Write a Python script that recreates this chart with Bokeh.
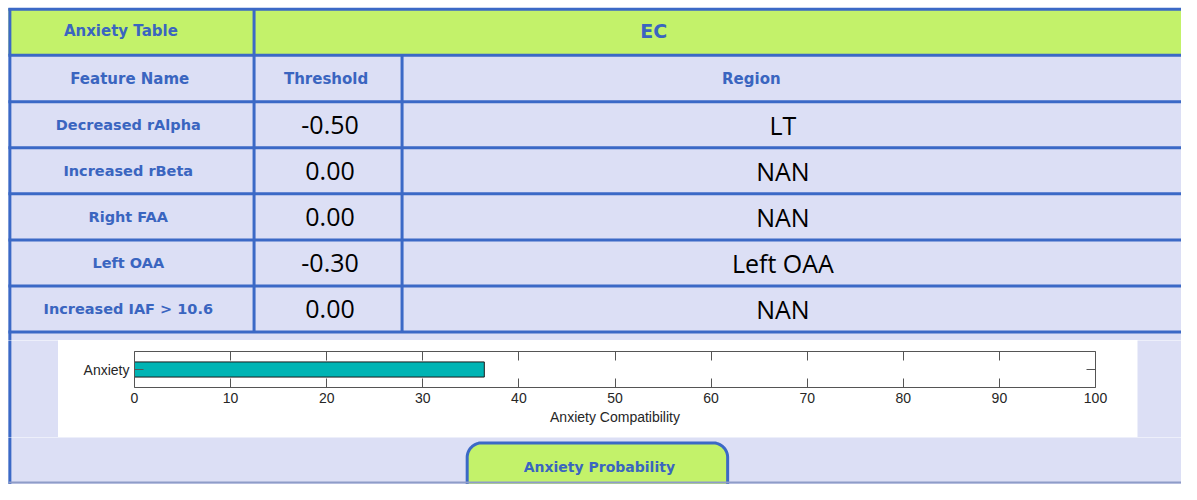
import numpy as np
from bokeh.plotting import figure
from bokeh.models import ColumnDataSource, Range1d, FactorRange, LinearAxis, CategoricalAxis, FixedTicker
from bokeh.layouts import column, row
from bokeh.core.properties import value
from bokeh.embed import file_html
from bokeh.resources import INLINE

# ---------------- data ----------------
table_title = "Anxiety Table"
condition = "EC"
col_headers = ["Feature Name", "Threshold", "Region"]
features = ["Decreased rAlpha", "Increased rBeta", "Right FAA", "Left OAA", "Increased IAF > 10.6"]
thresholds = [-0.50, 0.00, 0.00, -0.30, 0.00]
regions = ["LT", "NAN", "NAN", "Left OAA", "NAN"]
chart_categories = ["Anxiety"]
chart_values = [36.4]
x_ticks = [0, 10, 20, 30, 40, 50, 60, 70, 80, 90, 100]
chart_xlabel = "Anxiety Compatibility"
button_label = "Anxiety Probability"

# ---------------- style ----------------
GREEN = "#c3f26a"
LAV = "#dcdff5"
BLUE = "#3b69c6"
TXT_BLUE = "#3a65c0"
AX = "#555555"
HFONT = value("DejaVu Sans")
VFONT = value("Open Sans")

# page area in pixels, drawing coordinates follow the 1197x500 design
W, H = 1181, 484
REF_W, REF_H = 1197.0, 500.0
SX, SY = W / REF_W, H / REF_H

TOP_PX = 340           # table part height in px
MID_PX = 97            # chart band height in px
BOT_PX = H - TOP_PX - MID_PX
LPAD_PX = 58
RPAD_PX = 44
CH_PX = W - LPAD_PX - RPAD_PX


def pad_fig(px0, px1, py0, py1):
    f = figure(width=px1 - px0, height=py1 - py0,
               x_range=Range1d(px0 / SX, px1 / SX), y_range=Range1d(py1 / SY, py0 / SY),
               x_axis_type=None, y_axis_type=None, toolbar_location=None,
               output_backend="svg", min_border=0, frame_align=False)
    f.outline_line_color = None
    f.background_fill_color = "white"
    f.border_fill_color = "white"
    # table background
    f.quad(left=[8], right=[REF_W + 5], top=[max(8, py0 / SY - 1)], bottom=[py1 / SY + 1],
           fill_color=LAV, line_color=None)
    return f


# ---------------- table part ----------------
t = pad_fig(0, W, 0, TOP_PX)
t.quad(left=[8], right=[REF_W + 5], top=[8], bottom=[56.5], fill_color=GREEN, line_color=None)

header_bottom = 56.5
data_top = 104.5
row_h = 47.6
n = len(features)
hlines = [9, header_bottom] + [data_top + i * row_h for i in range(n + 1)]
t.segment(x0=[8] * len(hlines), y0=hlines, x1=[REF_W + 5] * len(hlines), y1=hlines,
          line_color=BLUE, line_width=3)
table_bottom = hlines[-1]
t.segment(x0=[9.5, 257, 407], y0=[8, 9, header_bottom], x1=[9.5, 257, 407],
          y1=[TOP_PX / SY + 1, table_bottom, table_bottom], line_color=BLUE, line_width=3)

t.text(x=[122], y=[31], text=[table_title], text_font=HFONT, text_font_style="bold",
       text_font_size="15px", text_color=TXT_BLUE, text_align="center", text_baseline="middle")
t.text(x=[662], y=[31.5], text=[condition], text_font=HFONT, text_font_style="bold",
       text_font_size="19px", text_color=TXT_BLUE, text_align="center", text_baseline="middle")
t.text(x=[131, 330, 761], y=[81, 81, 81], text=col_headers, text_font=HFONT,
       text_font_style="bold", text_font_size="15px", text_color=TXT_BLUE,
       text_align="center", text_baseline="middle")

centers = [data_top + (i + 0.5) * row_h for i in range(n)]
src = ColumnDataSource(dict(
    y=centers,
    feat=features,
    thr=[f"{v:.2f}" for v in thresholds],
    reg=regions,
))
t.text(x=129.5, y="y", text="feat", source=src, text_font=HFONT, text_font_style="bold",
       text_font_size="14.5px", text_color=TXT_BLUE, text_align="center", text_baseline="middle")
t.text(x=334, y="y", text="thr", source=src, text_font=VFONT, text_font_size="25px",
       text_color="black", text_align="center", text_baseline="middle")
t.text(x=793, y="y", text="reg", source=src, text_font=VFONT, text_font_size="25px",
       text_color="black", text_align="center", text_baseline="middle")

# ---------------- middle: chart band ----------------
left_pad = pad_fig(0, LPAD_PX, TOP_PX, TOP_PX + MID_PX)
left_pad.segment(x0=[9.5], y0=[TOP_PX / SY - 1], x1=[9.5], y1=[(TOP_PX + MID_PX) / SY + 1],
                 line_color=BLUE, line_width=3)
right_pad = pad_fig(LPAD_PX + CH_PX, W, TOP_PX, TOP_PX + MID_PX)
left_pad.quad(left=[59], right=[LPAD_PX / SX + 1], top=[351], bottom=[451],
              fill_color="white", line_color=None)
right_pad.quad(left=[(LPAD_PX + CH_PX) / SX - 1], right=[1152], top=[351], bottom=[451],
               fill_color="white", line_color=None)

plot_l = round(136 * SX) - LPAD_PX
plot_r = (LPAD_PX + CH_PX) - round(1110 * SX)
plot_t = round(362.3 * SY) - TOP_PX
plot_b = (TOP_PX + MID_PX) - round(400 * SY)

c = figure(width=CH_PX, height=MID_PX, x_range=Range1d(0, 100),
           y_range=FactorRange(factors=chart_categories),
           toolbar_location=None, output_backend="svg", frame_align=False,
           min_border_left=plot_l, min_border_right=plot_r,
           min_border_top=plot_t, min_border_bottom=plot_b)
c.background_fill_color = "white"
c.border_fill_color = "white"
c.outline_line_color = None
c.grid.visible = False
c.hbar(y=chart_categories, right=chart_values, left=0, height=0.42,
       fill_color="#00b4b4", line_color="#1a1a1a", line_width=1)

xa = c.xaxis[0]
xa.ticker = FixedTicker(ticks=x_ticks)
xa.axis_label = chart_xlabel
ya = c.yaxis[0]
top_ax = LinearAxis(ticker=FixedTicker(ticks=x_ticks))
right_ax = CategoricalAxis()
c.add_layout(top_ax, "above")
c.add_layout(right_ax, "right")
for a in [xa, ya, top_ax, right_ax]:
    a.axis_line_color = AX
    a.major_tick_line_color = AX
    a.major_tick_in = 9
    a.major_tick_out = 0
    a.minor_tick_line_color = None
    a.major_label_text_font = "Liberation Sans"
    a.major_label_text_font_size = "14px"
    a.major_label_text_color = "#262626"
    a.major_label_standoff = 5
for a in [top_ax, right_ax]:
    a.major_label_text_font_size = "1px"
    a.major_label_text_color = None
    a.major_label_standoff = 0
xa.axis_label_text_font = "Liberation Sans"
xa.axis_label_text_font_size = "14px"
xa.axis_label_text_font_style = "normal"
xa.axis_label_text_color = "#262626"
xa.axis_label_standoff = 3

# ---------------- bottom: button ----------------
b = pad_fig(0, W, TOP_PX + MID_PX, H)
b.quad(left=[59], right=[1152], top=[(TOP_PX + MID_PX) / SY - 1], bottom=[451],
       fill_color="white", line_color=None)
b.segment(x0=[9.5], y0=[451], x1=[9.5], y1=[500], line_color=BLUE, line_width=3)
bl, br, bt, r = 473, 737, 457, 15
tt = np.linspace(0, np.pi / 2, 20)
px = [bl] + list(bl + r - r * np.cos(tt)) + list(br - r + r * np.sin(tt)) + [br]
py = [505] + list(bt + r - r * np.sin(tt)) + list(bt + r - r * np.cos(tt)) + [505]
b.patch(x=px, y=py, fill_color=GREEN, line_color=BLUE, line_width=3)
b.text(x=[607], y=[482], text=[button_label], text_font=HFONT, text_font_style="bold",
       text_font_size="14px", text_color=TXT_BLUE, text_align="center", text_baseline="middle")
b.segment(x0=[8], y0=[498], x1=[REF_W + 5], y1=[498], line_color="#8e9cc8", line_width=2)

layout = column(t, row(left_pad, c, right_pad), b)
open("out.html", "w").write(file_html(layout, INLINE))
